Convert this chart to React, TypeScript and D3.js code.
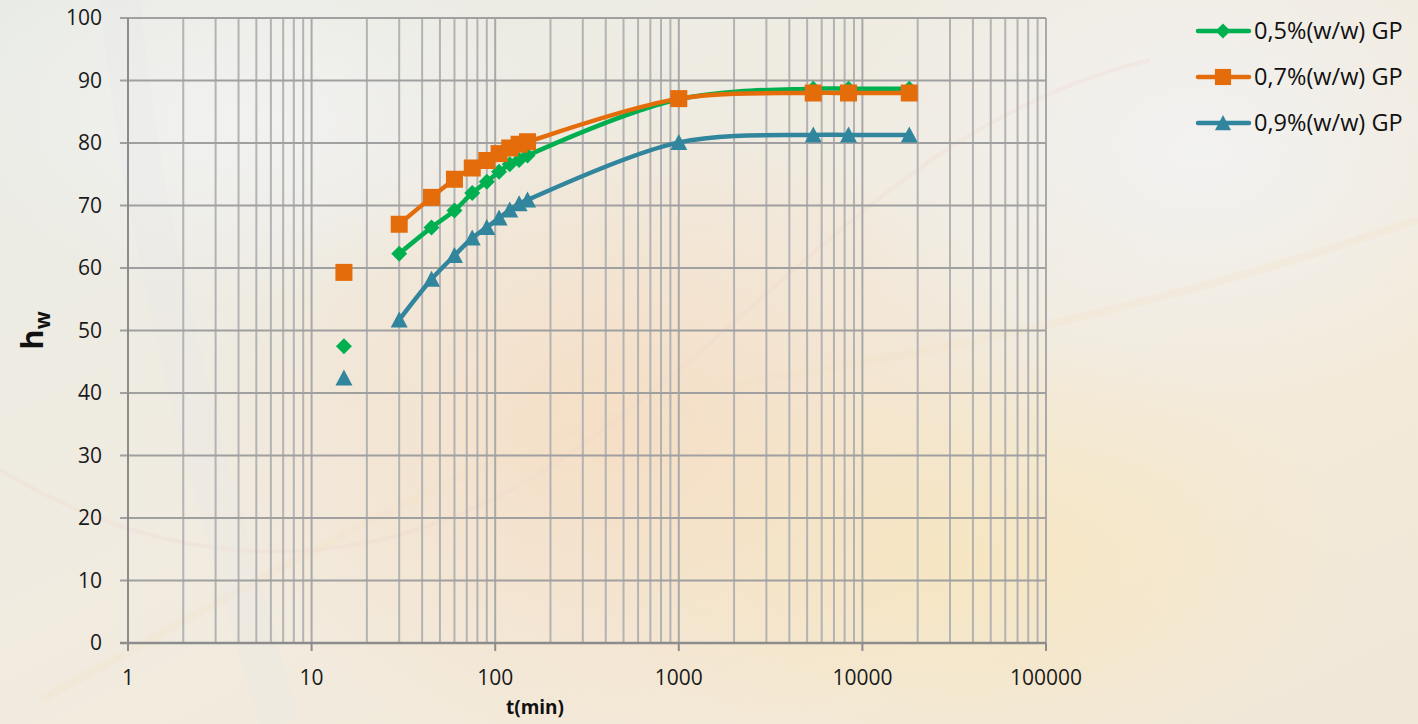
import React from 'react';
import * as d3 from 'd3';

// time points (min)
const times = [15, 30, 45, 60, 75, 90, 105, 120, 135, 150, 1000, 5400, 8400, 18000];

const gp05 = [47.5, 62.3, 66.5, 69.2, 72.0, 73.8, 75.4, 76.6, 77.3, 78.0, 87.0, 88.7, 88.7, 88.7];
const gp07 = [59.3, 67.0, 71.3, 74.2, 76.0, 77.2, 78.3, 79.2, 79.8, 80.2, 87.1, 88.0, 88.0, 88.0];
const gp09 = [42.4, 51.7, 58.2, 62.0, 64.8, 66.5, 68.0, 69.3, 70.3, 70.9, 80.1, 81.3, 81.3, 81.3];

const seriesNames = ['0,5%(w/w) GP', '0,7%(w/w) GP', '0,9%(w/w) GP'];
const seriesColors = ['#00B050', '#E46C0A', '#31859C'];
const seriesMarkers = ['diamond', 'square', 'triangle'];

const xTicks = [1, 10, 100, 1000, 10000, 100000];
const yTicks = [0, 10, 20, 30, 40, 50, 60, 70, 80, 90, 100];

const W = 1418;
const H = 724;
const margin = { top: 18, right: 372, bottom: 81, left: 128 };
const FONT = '"Open Sans", "Liberation Sans", sans-serif';

const Marker = ({ type, x, y, color, k = 1 }) => {
  if (type === 'diamond') {
    const r = 8 * k;
    return <path d={`M${x},${y - r}L${x + r},${y}L${x},${y + r}L${x - r},${y}Z`} fill={color} />;
  }
  if (type === 'square') {
    const s = 17 * k;
    return <rect x={x - s / 2} y={y - s / 2} width={s} height={s} fill={color} />;
  }
  const w = 17 * k, h = 15 * k;
  return <path d={`M${x},${y - h / 2 - 1}L${x + w / 2},${y + h / 2}L${x - w / 2},${y + h / 2}Z`} fill={color} />;
};

const App = () => {
  const iw = W - margin.left - margin.right;
  const ih = H - margin.top - margin.bottom;

  const x = d3.scaleLog().domain([1, 100000]).range([margin.left, margin.left + iw]);
  const y = d3.scaleLinear().domain([0, 100]).range([margin.top + ih, margin.top]);

  const minor = [];
  for (let e = 0; e < 5; e++) {
    for (let k = 2; k <= 9; k++) minor.push(k * Math.pow(10, e));
  }

  const series = [gp05, gp07, gp09];

  // first reading (15 min) is not joined to the curve
  const line = d3
    .line()
    .defined((d, i) => i > 0)
    .x((d) => x(d[0]))
    .y((d) => y(d[1]))
    .curve(d3.curveCatmullRom.alpha(0.5));

  return (
    <svg width={W} height={H} style={{ position: 'absolute', left: 0, top: 0, display: 'block' }}>
      <defs>
        <linearGradient id="bg" x1="0" y1="0" x2="1" y2="1">
          <stop offset="0" stopColor="#e9ece6" />
          <stop offset="0.45" stopColor="#f1ebe0" />
          <stop offset="0.75" stopColor="#f3ead9" />
          <stop offset="1" stopColor="#efe6d8" />
        </linearGradient>
        <radialGradient id="peach" cx="0.5" cy="0.5" r="0.5">
          <stop offset="0" stopColor="#f6dcc0" stopOpacity="0.85" />
          <stop offset="1" stopColor="#f6dcc0" stopOpacity="0" />
        </radialGradient>
        <radialGradient id="yel" cx="0.5" cy="0.5" r="0.5">
          <stop offset="0" stopColor="#f7e4b8" stopOpacity="0.7" />
          <stop offset="1" stopColor="#f7e4b8" stopOpacity="0" />
        </radialGradient>
        <radialGradient id="white" cx="0.5" cy="0.5" r="0.5">
          <stop offset="0" stopColor="#f2f2f2" stopOpacity="0.95" />
          <stop offset="1" stopColor="#f2f2f2" stopOpacity="0" />
        </radialGradient>
      </defs>

      <rect width={W} height={H} fill="url(#bg)" />
      <ellipse cx={620} cy={430} rx={420} ry={330} fill="url(#peach)" />
      <ellipse cx={980} cy={560} rx={380} ry={220} fill="url(#yel)" />
      <ellipse cx={1200} cy={150} rx={360} ry={260} fill="url(#white)" />
      <ellipse cx={250} cy={120} rx={300} ry={180} fill="url(#white)" />
      <path d="M0,470 C150,560 350,600 560,460 S900,120 1150,60" fill="none" stroke="#efd8cc" strokeWidth={4} opacity={0.3} />
      <path d="M40,700 C300,560 520,420 760,380 S1180,300 1418,220" fill="none" stroke="#f3e0c6" strokeWidth={8} opacity={0.3} />
      <path d="M120,0 C140,200 180,380 280,724" fill="none" stroke="#e4e4ea" strokeWidth={40} opacity={0.2} />

      {/* vertical gridlines */}
      {minor.map((v) => (
        <line key={'m' + v} x1={x(v)} x2={x(v)} y1={y(0)} y2={y(100)} stroke="#b3b3b3" strokeWidth={2} />
      ))}
      {xTicks.map((v) => (
        <line key={'xv' + v} x1={x(v)} x2={x(v)} y1={y(0)} y2={y(100)} stroke="#a9a9a9" strokeWidth={2} />
      ))}
      {/* horizontal gridlines */}
      {yTicks.map((v) => (
        <line key={'h' + v} x1={x(1) - 8} x2={x(100000)} y1={y(v)} y2={y(v)} stroke="#a0a0a0" strokeWidth={2} />
      ))}
      {/* axes */}
      <line x1={x(1)} x2={x(1)} y1={y(0)} y2={y(100)} stroke="#8c8c8c" strokeWidth={2} />
      <line x1={x(1) - 8} x2={x(100000)} y1={y(0)} y2={y(0)} stroke="#8c8c8c" strokeWidth={2.5} />
      {xTicks.map((v) => (
        <line key={'xt' + v} x1={x(v)} x2={x(v)} y1={y(0)} y2={y(0) + 8} stroke="#8c8c8c" strokeWidth={2} />
      ))}

      {yTicks.map((v) => (
        <text key={'yl' + v} x={x(1) - 26} y={y(v)} dy="0.35em" textAnchor="end" fontFamily={FONT} fontSize={21} fill="#1a1a1a">
          {v}
        </text>
      ))}
      {xTicks.map((v) => (
        <text key={'xl' + v} x={x(v)} y={y(0) + 42} textAnchor="middle" fontFamily={FONT} fontSize={21} fill="#1a1a1a">
          {v}
        </text>
      ))}

      <text x={535} y={714} textAnchor="middle" fontFamily={FONT} fontSize={19} fontWeight="bold" fill="#111">
        t(min)
      </text>
      <text transform={`translate(43,${y(50)}) rotate(-90)`} textAnchor="middle" fontFamily={FONT} fontWeight="bold" fill="#111">
        <tspan fontSize={31}>h</tspan>
        <tspan fontSize={21} dy={7}>w</tspan>
      </text>

      {/* series */}
      {series.map((vals, si) => {
        const pts = times.map((t, i) => [t, vals[i]]);
        return (
          <g key={'s' + si}>
            <path d={line(pts)} fill="none" stroke={seriesColors[si]} strokeWidth={4.5} strokeLinejoin="round" />
            {pts.map((p, i) => (
              <Marker key={i} type={seriesMarkers[si]} x={x(p[0])} y={y(p[1])} color={seriesColors[si]} />
            ))}
          </g>
        );
      })}

      {/* legend */}
      {seriesNames.map((name, i) => {
        const ly = 31 + i * 46;
        return (
          <g key={'lg' + i}>
            <line x1={1198} x2={1249} y1={ly} y2={ly} stroke={seriesColors[i]} strokeWidth={4.5} strokeLinecap="round" />
            <Marker type={seriesMarkers[i]} x={1223} y={ly} color={seriesColors[i]} k={0.95} />
            <text x={1254} y={ly} dy="0.36em" fontFamily={FONT} fontSize={23.5} fill="#111">
              {name}
            </text>
          </g>
        );
      })}
    </svg>
  );
};

export default App;
